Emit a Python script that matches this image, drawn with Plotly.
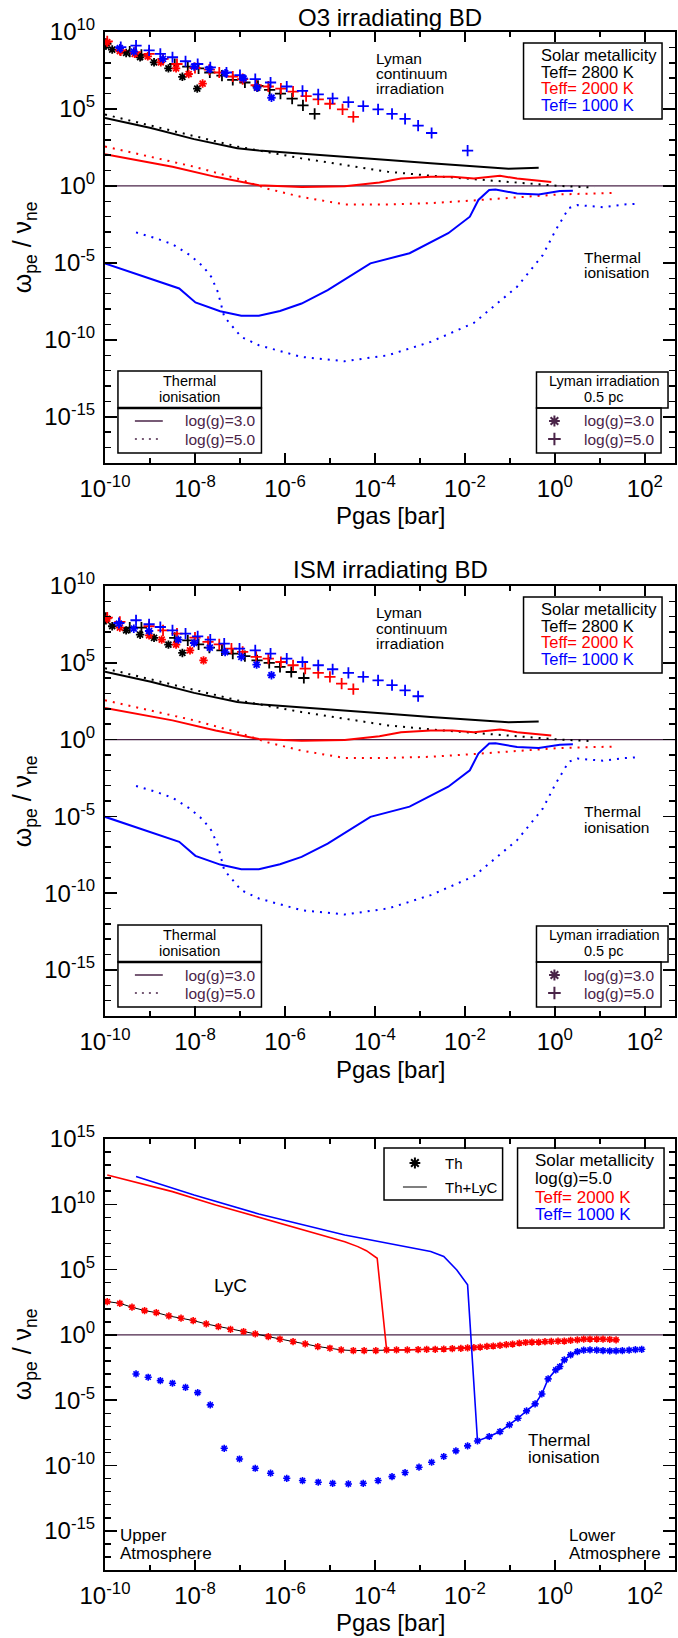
import numpy as np
import plotly.graph_objects as go

# ------------------------------------------------------------------
# DATA  (log10 values)
# ------------------------------------------------------------------
# Panels 1 and 2: thermal ionisation curves (same in both panels)
t2800_g3_logp = [-10, -8.98, -8.02, -7.06, -6.58, -5.63, -4.67, -3.71, -2.76, -1.80, -1.03, -0.36]
t2800_g3_logw = [4.42, 3.76, 3.04, 2.45, 2.30, 2.08, 1.90, 1.68, 1.47, 1.25, 1.12, 1.18]
t2800_g5_logp = [-10, -8.98, -8.02, -7.06, -6.58, -5.63, -4.67, -3.71, -2.76, -1.80, -0.84, 0.11, 0.88]
t2800_g5_logw = [4.64, 3.92, 3.22, 2.56, 2.30, 1.79, 1.36, 0.92, 0.66, 0.44, 0.20, 0.0, -0.11]
t2000_g3_logp = [-10, -8.50, -7.54, -6.58, -5.63, -4.67, -3.90, -3.42, -2.76, -2.28, -1.80, -1.22, -0.84, -0.08]
t2000_g3_logw = [2.06, 1.25, 0.59, 0.04, -0.07, -0.02, 0.22, 0.48, 0.59, 0.59, 0.48, 0.66, 0.48, 0.26]
t2000_g5_logp = [-10, -8.98, -8.02, -7.06, -6.39, -5.63, -4.67, -3.71, -2.76, -1.80, -0.84, 0.11, 1.26]
t2000_g5_logw = [2.56, 1.90, 1.25, 0.48, -0.18, -0.72, -1.20, -1.20, -1.12, -0.94, -0.72, -0.55, -0.46]
t1000_g3_logp = [-10, -8.35, -7.99, -7.44, -6.97, -6.58, -6.11, -5.63, -5.05, -4.10, -3.23, -2.37,
                 -1.89, -1.70, -1.46, -1.32, -0.84, -0.36, 0.11, 0.40]
t1000_g3_logw = [-5.03, -6.66, -7.57, -8.14, -8.44, -8.44, -8.12, -7.64, -6.77, -5.03, -4.37, -3.07,
                 -2.0, -0.91, -0.26, -0.24, -0.49, -0.55, -0.33, -0.31]
t1000_g5_logp = [-9.31, -8.88, -8.50, -8.11, -7.83, -7.64, -7.49, -7.35, -6.97, -6.58, -5.63, -4.67,
                 -3.71, -2.76, -1.80, -0.84, -0.27, 0.02, 0.31, 0.50, 1.07, 1.55, 1.84]
t1000_g5_logw = [-3.02, -3.39, -3.79, -4.5, -5.2, -5.9, -6.9, -8.5, -9.81, -10.35, -11.11, -11.39,
                 -11.0, -10.13, -8.9, -6.55, -4.5, -2.86, -1.44, -1.24, -1.38, -1.2, -1.16]

# Panel 1 (O3): Lyman continuum irradiation points
o3_t2800_g3_logp = [-9.98, -9.84, -9.53, -9.22, -8.91, -8.59, -8.28, -7.95, -6.62]
o3_t2800_g3_logw = [9.12, 8.86, 8.64, 8.36, 8.03, 7.64, 7.09, 6.32, 6.39]
o3_t2800_g5_logp = [-9.98, -9.45, -9.19, -8.45, -8.16, -7.92, -7.67, -7.40, -7.16, -6.89, -6.60, -6.34,
                    -6.10, -5.84, -5.60, -5.34]
o3_t2800_g5_logw = [9.23, 8.73, 8.51, 7.92, 7.75, 7.64, 7.37, 7.16, 6.89, 6.72, 6.50, 6.24, 6.0, 5.67,
                    5.23, 4.68]
o3_t2000_g3_logp = [-9.95, -9.67, -9.34, -9.05, -8.76, -8.42, -8.14, -7.83, -6.94]
o3_t2000_g3_logw = [9.34, 8.75, 8.58, 8.42, 8.03, 7.64, 7.27, 6.65, 6.94]
o3_t2000_g5_logp = [-9.95, -9.65, -9.33, -9.02, -8.71, -8.40, -8.0, -7.68, -7.46, -7.16, -6.94, -6.64,
                    -6.37, -6.09, -5.82, -5.53, -5.26, -5.0, -4.72, -4.48]
o3_t2000_g5_logw = [9.39, 8.80, 8.69, 8.58, 8.25, 7.92, 7.66, 7.55, 7.37, 7.11, 6.94, 6.54, 6.46, 6.32,
                    6.13, 5.84, 5.62, 5.34, 4.97, 4.49]
o3_t1000_g3_logp = [-9.67, -9.36, -8.71, -8.02, -7.68, -7.33, -6.92, -6.62, -6.30]
o3_t1000_g3_logw = [8.95, 8.73, 8.25, 7.75, 7.59, 7.33, 6.98, 6.39, 5.73]
o3_t1000_g5_logp = [-9.65, -9.31, -9.02, -8.77, -8.50, -8.21, -7.94, -7.66, -7.30, -7.0, -6.66, -6.32,
                    -5.96, -5.61, -5.26, -4.94, -4.59, -4.26, -3.93, -3.62, -3.33, -3.04, -2.74, -1.94]
o3_t1000_g5_logw = [9.02, 9.12, 8.80, 8.58, 8.36, 8.10, 7.92, 7.70, 7.37, 7.20, 6.94, 6.72, 6.46, 6.17,
                    5.95, 5.69, 5.45, 5.19, 4.97, 4.68, 4.35, 3.92, 3.44, 2.30]

# Panel 2 (ISM): Lyman continuum irradiation points
ism_t2800_g3_logp = [-9.98, -9.84, -9.53, -9.22, -8.91, -8.59, -8.28]
ism_t2800_g3_logw = [7.77, 7.38, 7.11, 6.83, 6.62, 6.18, 5.64]
ism_t2800_g5_logp = [-9.98, -9.45, -9.19, -8.45, -8.16, -7.92, -7.68, -7.40, -7.16, -6.89, -6.62, -6.35,
                     -6.11, -5.86, -5.58]
ism_t2800_g5_logw = [7.92, 7.29, 7.29, 6.62, 6.46, 6.20, 5.99, 5.81, 5.60, 5.44, 5.16, 4.99, 4.73, 4.40,
                     4.01]
ism_t2000_g3_logp = [-9.95, -9.67, -9.02, -8.74, -8.42, -8.11, -7.81]
ism_t2000_g3_logw = [7.87, 7.29, 6.79, 6.51, 6.18, 5.81, 5.16]
ism_t2000_g5_logp = [-9.95, -9.67, -9.02, -8.71, -8.40, -8.0, -7.71, -7.46, -7.19, -6.94, -6.64, -6.37,
                     -6.09, -5.82, -5.55, -5.26, -5.0, -4.74, -4.48]
ism_t2000_g5_logw = [7.94, 7.66, 7.38, 7.11, 6.90, 6.64, 6.36, 6.20, 5.92, 5.71, 5.38, 5.27, 5.05, 4.84,
                     4.62, 4.34, 4.08, 3.64, 3.28]
ism_t1000_g3_logp = [-9.69, -9.36, -9.02, -8.37, -8.02, -7.67, -7.33, -6.97, -6.63, -6.30]
ism_t1000_g3_logw = [7.55, 7.22, 7.07, 6.51, 6.29, 5.99, 5.70, 5.38, 4.88, 4.19]
ism_t1000_g5_logp = [-9.69, -9.31, -9.02, -8.77, -8.50, -8.21, -7.94, -7.66, -7.35, -7.01, -6.66, -6.32,
                     -5.96, -5.61, -5.26, -4.94, -4.59, -4.26, -3.93, -3.62, -3.33, -3.04]
ism_t1000_g5_logw = [7.59, 7.77, 7.51, 7.33, 7.11, 6.90, 6.72, 6.51, 6.25, 5.92, 5.81, 5.60, 5.27, 5.05,
                     4.84, 4.58, 4.34, 4.08, 3.86, 3.54, 3.21, 2.82]

# Panel 3: log(g)=5.0, thermal (Th) and thermal + LyC
th_t2000_logp = [-9.95, -9.67, -9.40, -9.12, -8.86, -8.58, -8.31, -8.04, -7.75, -7.48, -7.21, -6.92,
                 -6.66, -6.37, -6.11, -5.82, -5.55, -5.27, -5.00, -4.75, -4.48, -4.24, -3.98, -3.74,
                 -3.52, -3.28, -3.04, -2.85, -2.66, -2.47, -2.28, -2.09, -1.94, -1.80, -1.66, -1.51,
                 -1.37, -1.22, -1.08, -0.94, -0.79, -0.65, -0.51, -0.36, -0.22, -0.08, 0.07, 0.21,
                 0.35, 0.50, 0.64, 0.78, 0.93, 1.07, 1.22, 1.36]
th_t2000_logw = [2.55, 2.42, 2.12, 1.86, 1.71, 1.45, 1.28, 1.10, 0.84, 0.64, 0.43, 0.26,
                 0.08, -0.13, -0.33, -0.51, -0.69, -0.89, -1.02, -1.15, -1.20, -1.20, -1.20, -1.15,
                 -1.15, -1.15, -1.12, -1.10, -1.10, -1.08, -1.05, -1.03, -1.00, -0.97, -0.93, -0.88,
                 -0.85, -0.80, -0.75, -0.70, -0.62, -0.58, -0.55, -0.55, -0.52, -0.50, -0.48, -0.47,
                 -0.42, -0.38, -0.33, -0.32, -0.32, -0.33, -0.35, -0.38]
th_t1000_logp = [-9.31, -9.04, -8.77, -8.50, -8.21, -7.94, -7.66, -7.35, -7.01, -6.66, -6.32, -5.96,
                 -5.61, -5.26, -4.94, -4.59, -4.26, -3.93, -3.62, -3.33, -3.02, -2.74, -2.47, -2.20,
                 -1.94, -1.72, -1.46, -1.22, -1.01, -0.82, -0.63, -0.44, -0.29, -0.15, 0.02, 0.11,
                 0.21, 0.35, 0.50, 0.64, 0.78, 0.93, 1.07, 1.22, 1.36, 1.50, 1.65, 1.79, 1.93]
th_t1000_logw = [-2.99, -3.24, -3.50, -3.70, -4.01, -4.42, -5.36, -8.68, -9.50, -10.21, -10.59, -10.98,
                 -11.15, -11.28, -11.36, -11.41, -11.36, -11.15, -10.85, -10.54, -10.13, -9.75, -9.31,
                 -8.88, -8.50, -8.12, -7.78, -7.40, -6.89, -6.38, -5.82, -5.28, -4.52, -3.37, -2.68,
                 -2.42, -1.91, -1.53, -1.28, -1.17, -1.15, -1.17, -1.20, -1.22, -1.22, -1.20, -1.17,
                 -1.13, -1.10]
lyc_t2000_logp = [-9.95, -8.50, -7.54, -6.58, -5.63, -4.67, -4.38, -4.19, -3.95, -3.74]
lyc_t2000_logw = [12.24, 10.97, 9.95, 9.0, 8.04, 7.14, 6.76, 6.45, 5.87, -1.15]
lyc_t1000_logp = [-9.31, -8.02, -6.58, -4.67, -2.76, -2.47, -2.18, -1.94, -1.72]
lyc_t1000_logw = [12.12, 10.71, 9.26, 7.65, 6.38, 6.0, 4.97, 3.83, -8.12]

unity_logw = [0.0, 0.0]
x_range_log = [-10, 2.67]
x_tick_exp = [-10, -8, -6, -4, -2, 0, 2]
y_tick_exp = [-15, -10, -5, 0, 5, 10, 15]

# ------------------------------------------------------------------
# STYLE / LAYOUT
# ------------------------------------------------------------------
FONT = "Liberation Sans, Arial, Helvetica, sans-serif"
BLACK, RED, BLUE = "#000000", "#ff0000", "#0000ff"
PURPLE = "#4a2448"
OFF = 0                      # page body margin is removed by the post script
PAGE_W, PAGE_H = 678, 1638
PL, PR, PT, PB = 105, 677, 32, 1570   # plot area in page pixels
PW, PH = PR - PL, PB - PT
FIG_W, FIG_H = PAGE_W - OFF, PAGE_H - OFF


def pxx(x):
    return (x - PL) / PW


def pyy(y):
    return (PB - y) / PH


panels = [
    dict(xa="x", ya="y", top=32, bottom=463, ymin=-18, ymax=10),
    dict(xa="x2", ya="y2", top=586, bottom=1016, ymin=-18, ymax=10),
    dict(xa="x3", ya="y3", top=1139, bottom=1570, ymin=-18, ymax=15),
]

fig = go.Figure()


def p10(a):
    return np.power(10.0, np.asarray(a, dtype=float))


def add_line(k, lp, lw, color, dash="solid", width=2.0):
    fig.add_trace(go.Scatter(x=p10(lp), y=p10(lw), mode="lines",
                             line=dict(color=color, width=width, dash=dash),
                             xaxis=panels[k]["xa"], yaxis=panels[k]["ya"],
                             showlegend=False, hoverinfo="skip"))


def add_pts(k, lp, lw, color, symbol, size, lwid):
    fig.add_trace(go.Scatter(x=p10(lp), y=p10(lw), mode="markers",
                             marker=dict(symbol=symbol, size=size, color=color,
                                         line=dict(color=color, width=lwid)),
                             xaxis=panels[k]["xa"], yaxis=panels[k]["ya"],
                             showlegend=False, hoverinfo="skip"))


DOT = "2px,6px"
AST, PLUS = "asterisk-open", "cross-thin-open"

for k in (0, 1):
    add_line(k, x_range_log, unity_logw, PURPLE, width=1.2)
    add_line(k, t2800_g3_logp, t2800_g3_logw, BLACK)
    add_line(k, t2800_g5_logp, t2800_g5_logw, BLACK, DOT)
    add_line(k, t2000_g3_logp, t2000_g3_logw, RED)
    add_line(k, t2000_g5_logp, t2000_g5_logw, RED, DOT)
    add_line(k, t1000_g3_logp, t1000_g3_logw, BLUE)
    add_line(k, t1000_g5_logp, t1000_g5_logw, BLUE, DOT)

pts1 = [(o3_t2800_g3_logp, o3_t2800_g3_logw, BLACK, AST), (o3_t2800_g5_logp, o3_t2800_g5_logw, BLACK, PLUS),
        (o3_t2000_g3_logp, o3_t2000_g3_logw, RED, AST), (o3_t2000_g5_logp, o3_t2000_g5_logw, RED, PLUS),
        (o3_t1000_g3_logp, o3_t1000_g3_logw, BLUE, AST), (o3_t1000_g5_logp, o3_t1000_g5_logw, BLUE, PLUS)]
pts2 = [(ism_t2800_g3_logp, ism_t2800_g3_logw, BLACK, AST), (ism_t2800_g5_logp, ism_t2800_g5_logw, BLACK, PLUS),
        (ism_t2000_g3_logp, ism_t2000_g3_logw, RED, AST), (ism_t2000_g5_logp, ism_t2000_g5_logw, RED, PLUS),
        (ism_t1000_g3_logp, ism_t1000_g3_logw, BLUE, AST), (ism_t1000_g5_logp, ism_t1000_g5_logw, BLUE, PLUS)]
for k, pts in ((0, pts1), (1, pts2)):
    for lp, lw, c, s in pts:
        add_pts(k, lp, lw, c, s, 7 if s == AST else 8, 1.8)

# panel 3
add_line(2, x_range_log, unity_logw, PURPLE, width=1.2)
add_line(2, th_t2000_logp, th_t2000_logw, BLACK, width=1.0)
red_tail = [i for i, v in enumerate(th_t2000_logp) if v > lyc_t2000_logp[-1]]
add_line(2, lyc_t2000_logp + [th_t2000_logp[i] for i in red_tail],
         lyc_t2000_logw + [th_t2000_logw[i] for i in red_tail], RED, width=1.6)
add_pts(2, th_t2000_logp, th_t2000_logw, RED, AST, 6, 1.6)
blue_tail = [i for i, v in enumerate(th_t1000_logp) if v > lyc_t1000_logp[-1]]
add_line(2, lyc_t1000_logp + [th_t1000_logp[i] for i in blue_tail],
         lyc_t1000_logw + [th_t1000_logw[i] for i in blue_tail], BLUE, width=1.6)
add_pts(2, th_t1000_logp, th_t1000_logw, BLUE, AST, 6, 1.6)


def sup_label(e):
    return "10<sup>%d</sup>" % e


TICKFONT = dict(family=FONT, size=24, color=BLACK)
layout_axes = {}
for i, p in enumerate(panels):
    sfx = "" if i == 0 else str(i + 1)
    d0, d1 = pyy(p["bottom"]), pyy(p["top"])
    layout_axes["xaxis" + sfx] = dict(
        type="log", range=x_range_log, domain=[0, 1], anchor="y" + sfx,
        showline=True, linewidth=2, linecolor=BLACK, mirror="ticks",
        ticks="inside", ticklen=10, tickwidth=1.5, tickcolor=BLACK,
        tickvals=[10.0 ** e for e in x_tick_exp], ticktext=[sup_label(e) for e in x_tick_exp],
        minor=dict(tickvals=[10.0 ** e for e in range(-9, 3, 2)], ticks="inside", ticklen=5,
                   tickwidth=1.5, tickcolor=BLACK, showgrid=False),
        tickfont=TICKFONT, ticklabelstandoff=3,
        showgrid=False, zeroline=False)
    yexps = [e for e in y_tick_exp if p["ymin"] <= e <= p["ymax"]]
    layout_axes["yaxis" + sfx] = dict(
        type="log", range=[p["ymin"], p["ymax"]], domain=[d0, d1], anchor="x" + sfx,
        showline=True, linewidth=2, linecolor=BLACK, mirror="ticks",
        ticks="inside", ticklen=12, tickwidth=1.5, tickcolor=BLACK,
        tickvals=[10.0 ** e for e in yexps], ticktext=[sup_label(e) for e in yexps],
        minor=dict(tickvals=[10.0 ** e for e in range(p["ymin"], p["ymax"] + 1) if e % 5 != 0],
                   ticks="inside", ticklen=6, tickwidth=1.5, tickcolor=BLACK, showgrid=False),
        tickfont=TICKFONT, ticklabelstandoff=3,
        showgrid=False, zeroline=False)

# overlay pixel-space axes for legend symbols
layout_axes["xaxis4"] = dict(domain=[0, 1], range=[PL, PR], anchor="y4", visible=False, fixedrange=True)
layout_axes["yaxis4"] = dict(domain=[0, 1], range=[PB, PT], anchor="x4", visible=False, fixedrange=True)

annotations = []
shapes = []


def txt(x, y, s, size, color=BLACK, xanchor="left", angle=0):
    annotations.append(dict(x=pxx(x), y=pyy(y), xref="paper", yref="paper", text=s, showarrow=False,
                            xanchor=xanchor, yanchor="middle", textangle=angle, borderpad=0,
                            font=dict(family=FONT, size=size, color=color)))


def rect(x0, y0, x1, y1, w=1.5):
    shapes.append(dict(type="rect", xref="paper", yref="paper", x0=pxx(x0), x1=pxx(x1),
                       y0=pyy(y1), y1=pyy(y0), line=dict(color=BLACK, width=w)))


def seg(x0, y0, x1, y1, color=BLACK, w=1.5, dash="solid"):
    shapes.append(dict(type="line", xref="paper", yref="paper", x0=pxx(x0), x1=pxx(x1),
                       y0=pyy(y0), y1=pyy(y1), line=dict(color=color, width=w, dash=dash)))


legend_marks = []  # (x, y, symbol, color)

for k, title in ((0, "O3 irradiating BD"), (1, "ISM irradiating BD")):
    dy = 554 * k
    txt(391, (17 if k == 0 else 15) + dy, title, 24, xanchor="center")
    txt(391, 515 + dy, "Pgas [bar]", 24, xanchor="center")
    txt(24, 247 + dy, "ω<sub>pe</sub> / ν<sub>ne</sub>", 25, xanchor="center", angle=-90)
    txt(376, 58 + dy, "Lyman", 15.5)
    txt(376, 74 + dy, "continuum", 15.5)
    txt(376, 89 + dy, "irradiation", 15.5)
    txt(585, 257 + dy, "Thermal", 15.5)
    txt(585, 273 + dy, "ionisation", 15.5)
    # metallicity box
    rect(525, 43 + dy, 664, 119 + dy)
    txt(542, 55 + dy, "Solar metallicity", 16.5)
    txt(542, 72 + dy, "Teff= 2800 K", 16.5)
    txt(542, 88 + dy, "Teff= 2000 K", 16.5, RED)
    txt(542, 105 + dy, "Teff= 1000 K", 16.5, BLUE)
    # thermal ionisation legend
    rect(118, 371 + dy, 262, 408 + dy)
    rect(118, 408 + dy, 262, 453 + dy)
    seg(118, 408 + dy, 262, 408 + dy, w=2.5)
    txt(190, 381 + dy, "Thermal", 14.5, xanchor="center")
    txt(190, 397 + dy, "ionisation", 14.5, xanchor="center")
    seg(135, 421 + dy, 163, 421 + dy, PURPLE, 1.5)
    seg(135, 439 + dy, 163, 439 + dy, PURPLE, 1.5, "2px,5px")
    txt(184, 421 + dy, "log(g)=3.0", 15.5, PURPLE)
    txt(184, 439 + dy, "log(g)=5.0", 15.5, PURPLE)
    # lyman irradiation legend
    rect(538, 372 + dy, 670, 408 + dy)
    rect(538, 408 + dy, 663, 453 + dy)
    txt(606, 381 + dy, "Lyman irradiation", 14.5, xanchor="center")
    txt(606, 397 + dy, "0.5 pc", 14.5, xanchor="center")
    legend_marks.append((556, 421 + dy, AST, PURPLE))
    legend_marks.append((556, 439 + dy, PLUS, PURPLE))
    txt(585, 421 + dy, "log(g)=3.0", 15.5, PURPLE)
    txt(585, 439 + dy, "log(g)=5.0", 15.5, PURPLE)

# panel 3 texts
txt(391, 1622, "Pgas [bar]", 24, xanchor="center")
txt(24, 1354, "ω<sub>pe</sub> / ν<sub>ne</sub>", 25, xanchor="center", angle=-90)
rect(385, 1148, 504, 1200)
legend_marks.append((416, 1163, AST, BLACK))
txt(445, 1163, "Th", 15)
seg(404, 1187, 428, 1187, "#555555", 1.5)
txt(445, 1187, "Th+LyC", 15)
rect(519, 1148, 666, 1228)
txt(536, 1160, "Solar metallicity", 17)
txt(536, 1178, "log(g)=5.0", 17)
txt(536, 1197, "Teff= 2000 K", 17, RED)
txt(536, 1214, "Teff= 1000 K", 17, BLUE)
txt(231, 1285, "LyC", 19, xanchor="center")
txt(528, 1440, "Thermal", 17)
txt(528, 1457, "ionisation", 17)
txt(119, 1535, "Upper", 17)
txt(119, 1553, "Atmosphere", 17)
txt(570, 1535, "Lower", 17)
txt(570, 1553, "Atmosphere", 17)

for (mx, my, sym, col) in legend_marks:
    fig.add_trace(go.Scatter(x=[mx], y=[my], mode="markers", xaxis="x4", yaxis="y4",
                             marker=dict(symbol=sym, size=9, color=col, line=dict(color=col, width=2)),
                             showlegend=False, hoverinfo="skip", cliponaxis=False))

fig.update_layout(
    width=FIG_W, height=FIG_H,
    margin=dict(l=PL - OFF, r=FIG_W + OFF - PR, t=PT - OFF, b=FIG_H + OFF - PB, pad=0),
    paper_bgcolor="white", plot_bgcolor="rgba(0,0,0,0)",
    showlegend=False,
    font=dict(family=FONT, color=BLACK),
    annotations=annotations, shapes=shapes,
    **layout_axes,
)

fig.write_html("out.html", config={"displayModeBar": False, "staticPlot": True},
               post_script="document.body.style.margin='0px';")
